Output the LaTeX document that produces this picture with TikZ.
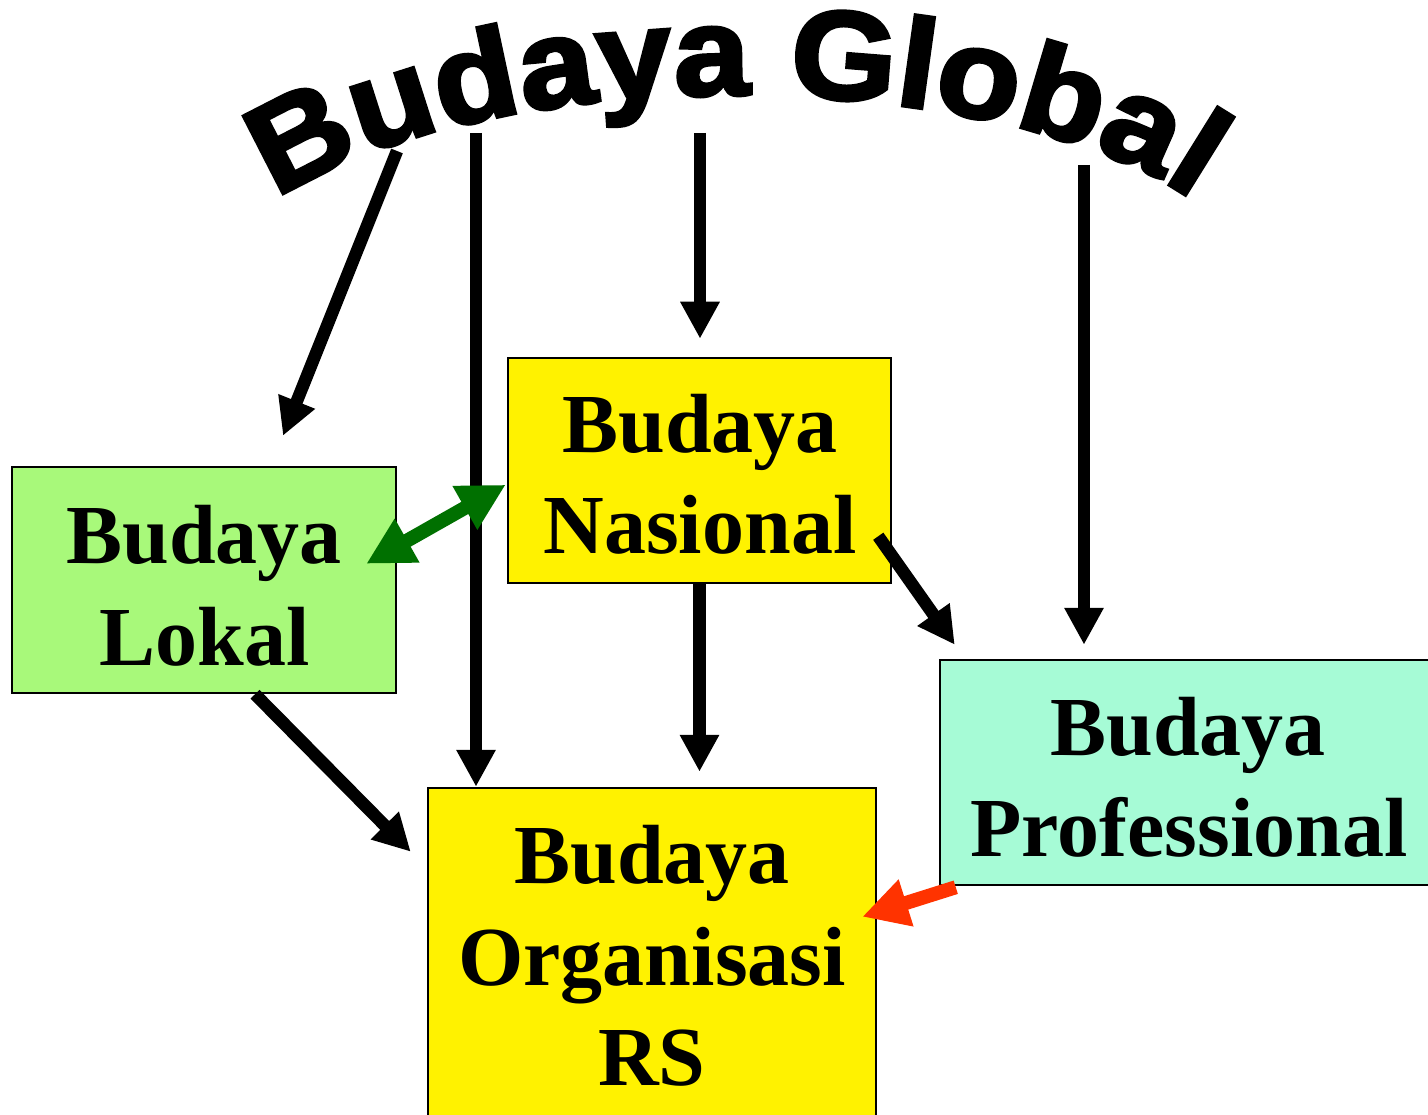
\documentclass[tikz,border=0pt]{standalone}
\usepackage{fontspec}
\setmainfont{Liberation Serif}
\newfontfamily\titlefont{Liberation Sans}[FakeStretch=1.08, BoldFeatures={FakeBold=3}]
\usetikzlibrary{arrows.meta,calc,decorations.text}
\definecolor{lokfill}{RGB}{168,249,122}
\definecolor{profill}{RGB}{166,251,214}
\definecolor{dkgreen}{RGB}{0,112,0}
\definecolor{redarr}{RGB}{255,51,0}
\tikzset{
  box/.style={draw=black, line width=2.5pt, rectangle, inner sep=0pt},
  lbl/.style={font=\bfseries\fontsize{84}{100}\selectfont, inner sep=0pt, anchor=base},
  arr/.style={draw=black, line width=12.5pt, -{Triangle[width=37pt,length=37pt]}},
  garr/.style={draw=dkgreen, line width=14pt, {Triangle[width=47pt,length=47pt]}-{Triangle[width=47pt,length=47pt]}},
  rarr/.style={draw=redarr, line width=14pt, -{Triangle[width=46pt,length=46pt]}}
}
\begin{document}
\begin{tikzpicture}[x=1pt,y=-1pt]
\useasboundingbox (0,0) rectangle (1428,1115);
\fill[white] (0,0) rectangle (1428,1115);

% title
\path[decorate, decoration={text along path, text align=center,
  text={|\titlefont\bfseries\fontsize{126}{126}\selectfont|Budaya Global}}]
  (215,295) arc[start angle=180, end angle=360, x radius=520, y radius=200];

% boxes
\node[box, fill=lokfill, minimum width=384pt, minimum height=226pt] (lok) at (204,580) {};
\node[box, fill=yellow, minimum width=383pt, minimum height=225pt] (nas) at (699.5,470.5) {};
\node[box, fill=yellow, minimum width=448pt, minimum height=342pt] (org) at (652,959) {};
\node[box, fill=profill, minimum width=498pt, minimum height=225pt] (pro) at (1189,772.5) {};

% labels
\node[lbl] (lok1) at (204,563) {Budaya};
\node[lbl] (lok2) at (205,665) {Lokal};
\node[lbl] (nas1) at (700,453) {Budaya};
\node[lbl] (nas2) at (700,553) {Nasional};
\node[lbl] (org1) at (652,883) {Budaya};
\node[lbl] (org2) at (652,985) {Organisasi};
\node[lbl] (org3) at (652,1085) {RS};
\node[lbl] (pro1) at (1188,755) {Budaya};
\node[lbl] (pro2) at (1189,856) {Professional};

% free ends under the title
\coordinate (t1) at (397,151);
\coordinate (t2) at (476,133);
\coordinate (t3) at (700,133);
\coordinate (t4) at (1084,165);

% arrows from the title
\draw[arr] (t1) -- ($(lok.north)+(79,-30)$);
\draw[arr] (t2) -- (t2 |- org.north);
\draw[arr] (t3) -- ($(t3 |- nas.north)+(0,-18)$);
\draw[arr] (t4) -- ($(t4 |- pro.north)+(0,-14)$);

% arrows between boxes
\draw[arr] ($(lok.south)+(51,0)$) -- ($(org.north west)+(-16,65)$);
\draw[arr] (nas.south) -- ($(nas.south |- org.north)+(0,-15)$);
\draw[arr] ($(nas.south east)+(-14,-48)$) -- ($(pro.north west)+(16,-14)$);
\draw[garr] ($(lok.north east)+(-31,98)$) -- ($(nas.north west)+(-1,128)$);
\draw[rarr] ($(pro.south west)+(17,1)$) -- ($(org.north east)+(-15,130)$);
\end{tikzpicture}
\end{document}
